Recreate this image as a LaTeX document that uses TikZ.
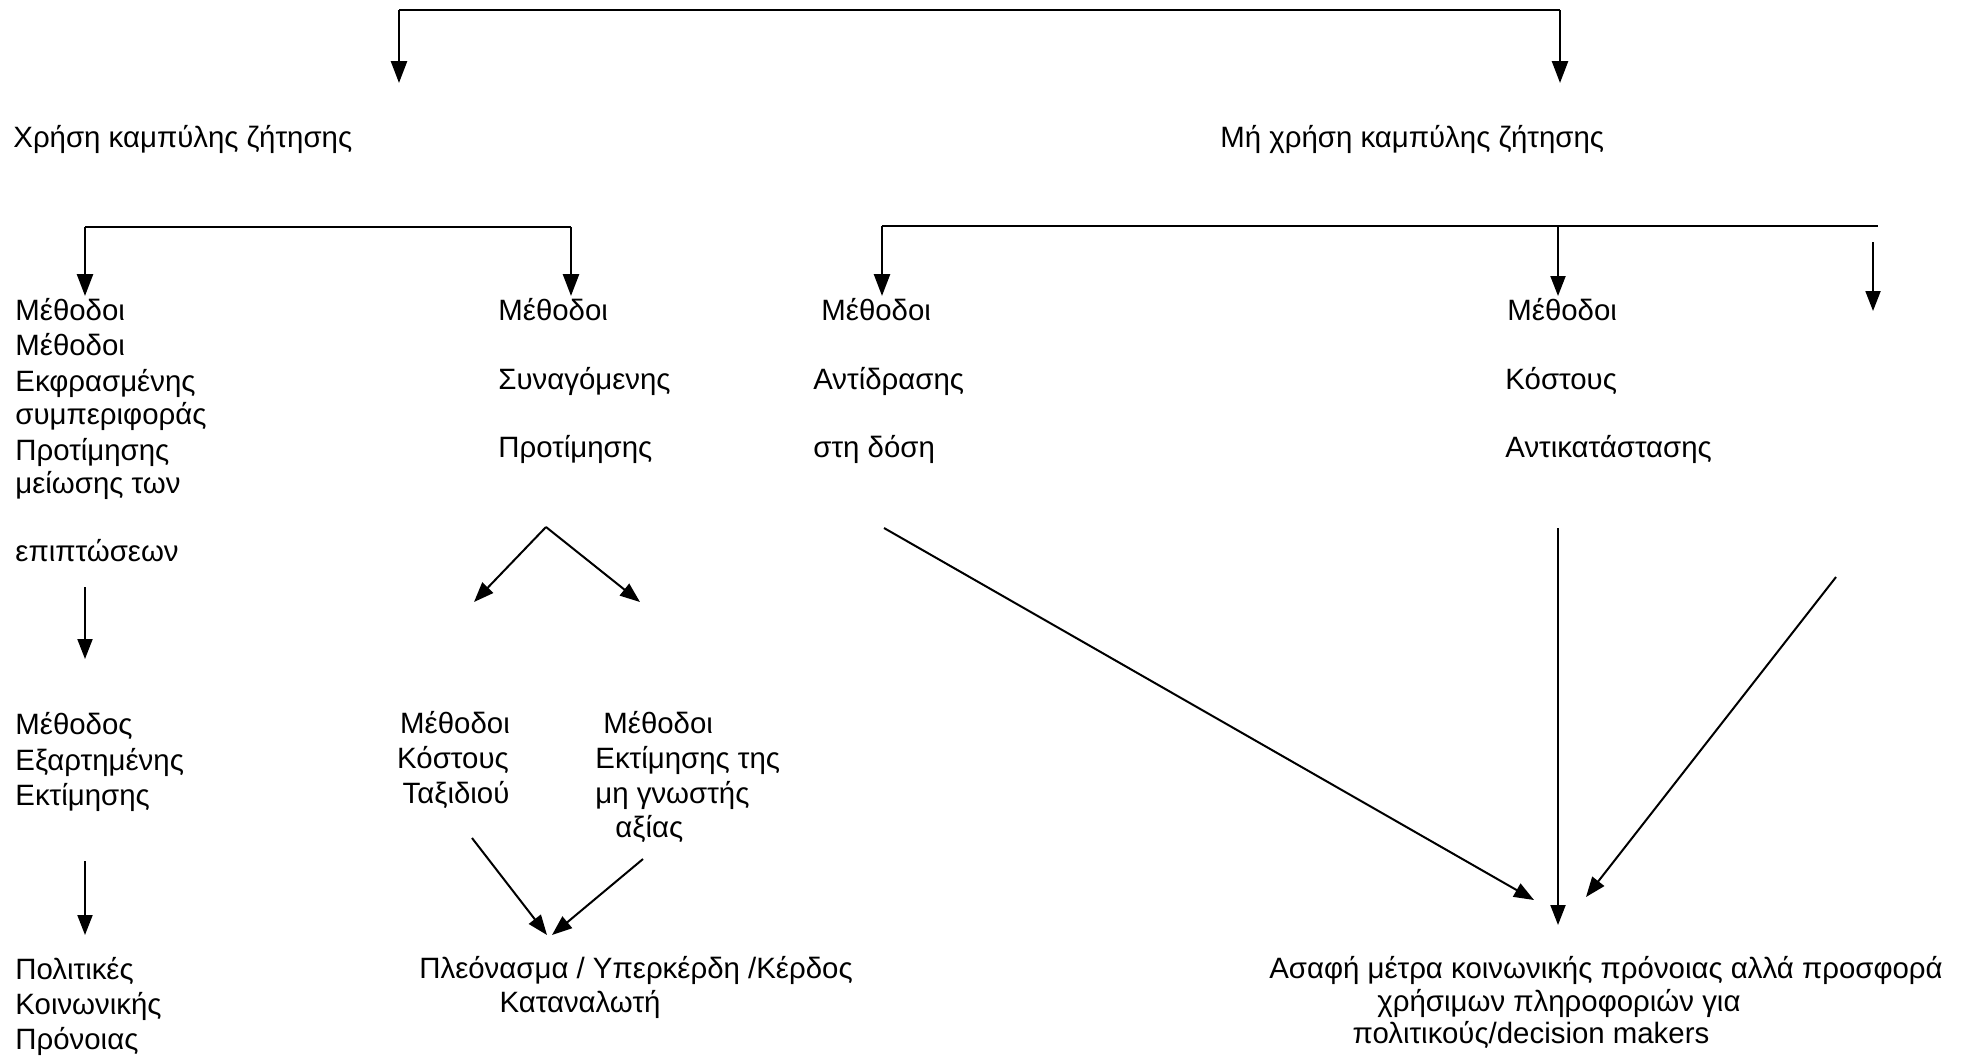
\documentclass[tikz,border=0pt]{standalone}
\usepackage{fontspec}
\setmainfont{Liberation Sans}
\usetikzlibrary{arrows.meta}
\tikzset{
  txt/.style={font=\fontsize{14.7}{18}\selectfont, inner sep=0pt, anchor=base west},
  txtc/.style={txt, anchor=base},
  bra/.style={line width=1.3pt},
  arr/.style={line width=1.3pt, -{Triangle[length=11pt,width=8pt]}},
  thin arr/.style={line width=1pt, -{Triangle[length=10pt,width=7.5pt]}}
}
\begin{document}
\begin{tikzpicture}[x=0.5pt,y=-0.5pt]
\useasboundingbox (0,0) rectangle (1968,1056);
% top level
\node[txt] (use) at (13,147) {Χρήση καμπύλης ζήτησης};
\node[txt] (nouse) at (1220,147) {Μή χρήση καμπύλης ζήτησης};
\coordinate (t1) at (399,10);
\coordinate (t2) at (1560,10);
\coordinate (t1e) at (399,83);
\coordinate (t2e) at (1560,83);
\draw[bra] (t1) -- (t2);
\draw[arr] (t1) -- (t1e);
\draw[arr] (t2) -- (t2e);
% left bracket
\coordinate (l1) at (85,227);
\coordinate (l2) at (571,227);
\coordinate (l1e) at (85,296);
\coordinate (l2e) at (571,296);
\draw[bra] (l1) -- (l2);
\draw[arr] (l1) -- (l1e);
\draw[arr] (l2) -- (l2e);
% right bracket
\coordinate (r1) at (882,226);
\coordinate (r2) at (1558,226);
\coordinate (r3) at (1878,226);
\coordinate (r1e) at (882,296);
\coordinate (r2e) at (1558,296);
\coordinate (r3s) at (1873,242);
\coordinate (r3e) at (1873,311);
\draw[bra] (r1) -- (r3);
\draw[arr] (r1) -- (r1e);
\draw[thin arr] (r2) -- (r2e);
\draw[thin arr] (r3s) -- (r3e);
% left column
\node[txt] (a1) at (15,320) {Μέθοδοι};
\node[txt] (a2) at (15,355) {Μέθοδοι};
\node[txt] (a3) at (15,391) {Εκφρασμένης};
\node[txt] (a4) at (15,424) {συμπεριφοράς};
\node[txt] (a5) at (15,460) {Προτίμησης};
\node[txt] (a6) at (15,493) {μείωσης των};
\node[txt] (a7) at (15,561) {επιπτώσεων};
\coordinate (a7s) at (85,587);
\coordinate (b1n) at (85,659);
\draw[thin arr] (a7s) -- (b1n);
\node[txt] (b1) at (15,734) {Μέθοδος};
\node[txt] (b2) at (15,770) {Εξαρτημένης};
\node[txt] (b3) at (15,805) {Εκτίμησης};
\coordinate (b3s) at (85,861);
\coordinate (c1n) at (85,935);
\draw[thin arr] (b3s) -- (c1n);
\node[txt] (c1) at (15,979) {Πολιτικές};
\node[txt] (c2) at (15,1014) {Κοινωνικής};
\node[txt] (c3) at (15,1049) {Πρόνοιας};
% second column
\node[txt] (d1) at (498,320) {Μέθοδοι};
\node[txt] (d2) at (498,389) {Συναγόμενης};
\node[txt] (d3) at (498,457) {Προτίμησης};
\coordinate (apex) at (546,527);
\coordinate (vl) at (474,602);
\coordinate (vr) at (640,602);
\draw[thin arr] (apex) -- (vl);
\draw[thin arr] (apex) -- (vr);
\node[txtc] (e1) at (455,733) {Μέθοδοι};
\node[txtc] (e2) at (453,768) {Κόστους};
\node[txtc] (e3) at (456,803) {Ταξιδιού};
\node[txt] (f1) at (603,733) {Μέθοδοι};
\node[txt] (f2) at (595,768) {Εκτίμησης της};
\node[txt] (f3) at (595,803) {μη γνωστής};
\node[txt] (f4) at (615,837) {αξίας};
\coordinate (e3s) at (472,838);
\coordinate (f4s) at (643,859);
\coordinate (g1n) at (547,935);
\coordinate (g1m) at (552,935);
\draw[thin arr] (e3s) -- (g1n);
\draw[thin arr] (f4s) -- (g1m);
\node[txtc] (g1) at (636,978) {Πλεόνασμα / Υπερκέρδη /Κέρδος};
\node[txtc] (g2) at (580,1012) {Καταναλωτή};
% right columns
\node[txt] (h1) at (821,320) {Μέθοδοι};
\node[txt] (h2) at (813,389) {Αντίδρασης};
\node[txt] (h3) at (813,457) {στη δόση};
\node[txt] (k1) at (1507,320) {Μέθοδοι};
\node[txt] (k2) at (1505,389) {Κόστους};
\node[txt] (k3) at (1505,457) {Αντικατάστασης};
\coordinate (h3s) at (884,528);
\coordinate (k3s) at (1558,528);
\coordinate (x3s) at (1836,577);
\coordinate (m1) at (1534,900);
\coordinate (m2) at (1558,925);
\coordinate (m3) at (1586,897);
\draw[thin arr] (h3s) -- (m1);
\draw[thin arr] (k3s) -- (m2);
\draw[thin arr] (x3s) -- (m3);
\node[txtc] (n1) at (1606,978) {Ασαφή μέτρα κοινωνικής πρόνοιας αλλά προσφορά};
\node[txtc] (n2) at (1559,1011) {χρήσιμων πληροφοριών για};
\node[txtc] (n3) at (1531,1043) {πολιτικούς/decision makers};
\end{tikzpicture}
\end{document}
